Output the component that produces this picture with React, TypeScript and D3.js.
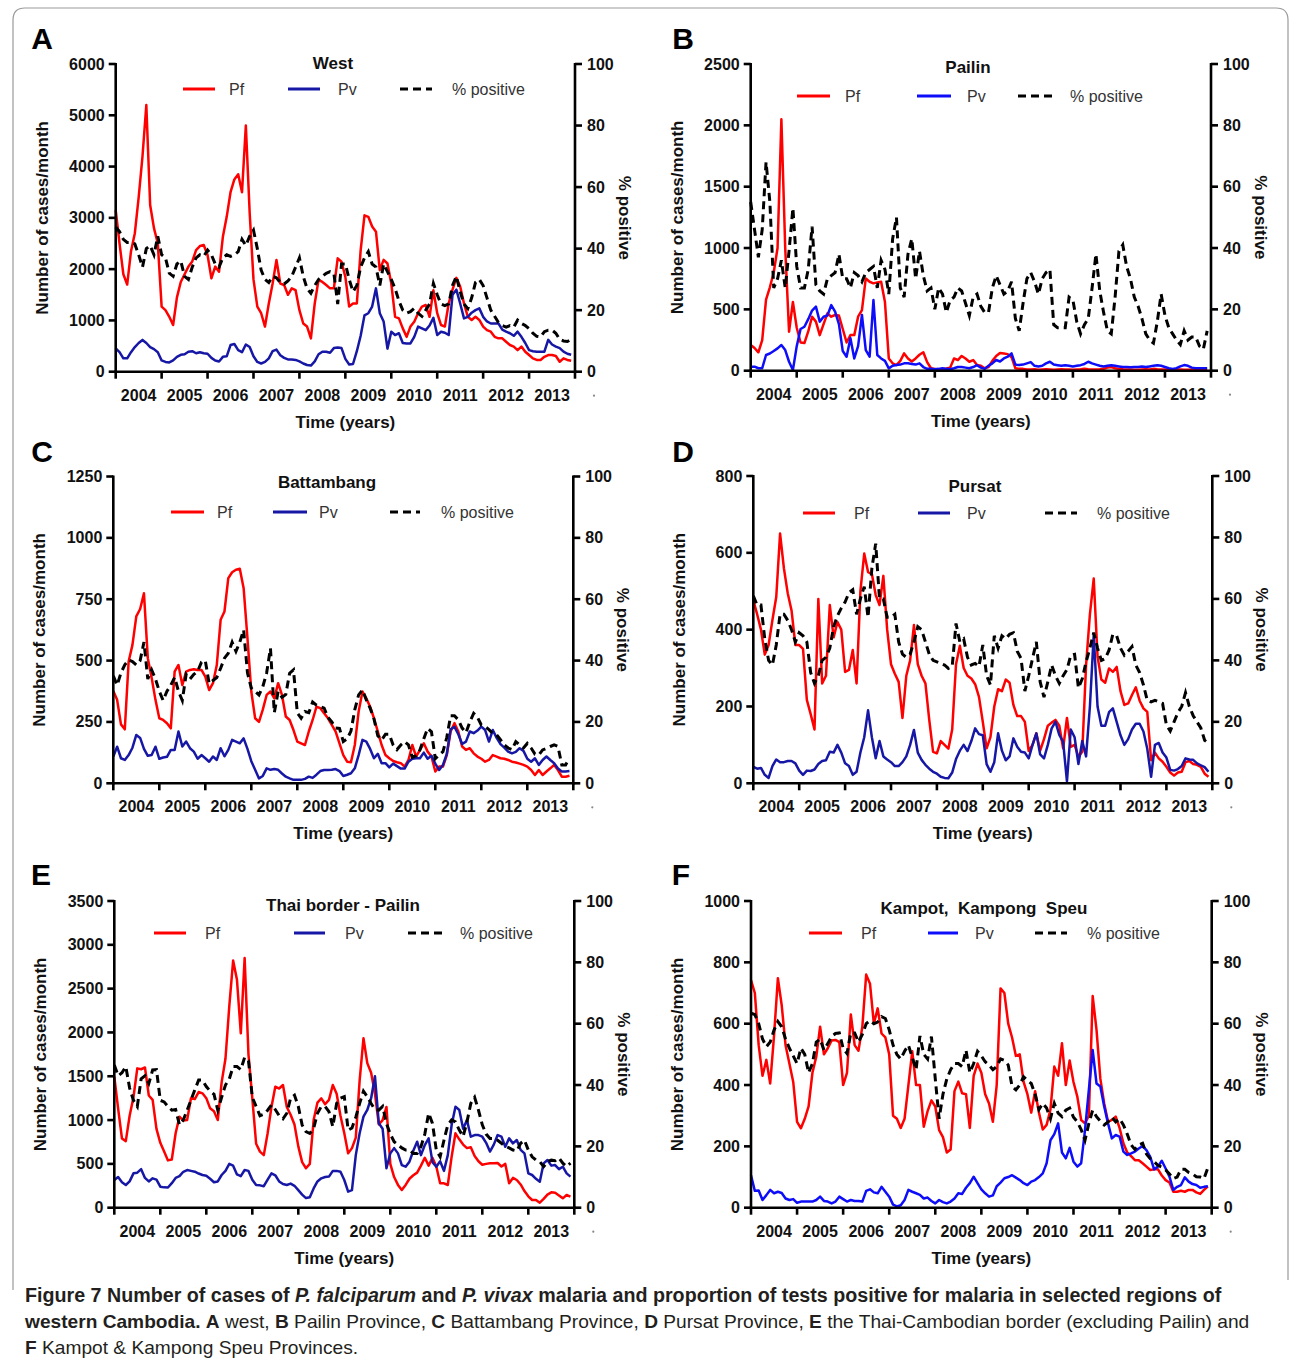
import React, { useLayoutEffect, useRef, useState } from "react";
import * as d3 from "d3";

// ---------- shared categories / ticks ----------
const yearLabels = ["2004", "2005", "2006", "2007", "2008", "2009", "2010", "2011", "2012", "2013"];
const pctTicks = [0, 20, 40, 60, 80, 100];
const monthsPerYear = 12;

// ---------- A: West ----------
const westTicks = [0, 1000, 2000, 3000, 4000, 5000, 6000];
const westPf = [
  3150, 2500, 1900, 1700, 2350, 2700, 3400, 4200, 5200, 3250, 2800, 2500,
  1270, 1200, 1070, 910, 1450, 1750, 1900, 2050, 2150, 2370, 2450, 2470,
  2275, 1820, 2050, 1950, 2630, 3020, 3500, 3750, 3850, 3500, 4800, 3100,
  1800, 1270, 1140, 880, 1330, 1720, 2180, 1720, 1690, 1500, 1625, 1590,
  1200, 940, 880, 650, 1330, 1790, 1750, 1690, 1625, 1625, 2210, 2145,
  1850, 1270, 1330, 1330, 2370, 3050, 3020, 2830, 2730, 1980, 2180, 2110,
  1720, 1070, 1040, 845, 680, 880, 975, 1140, 1270, 1300, 1070, 1590,
  1140, 910, 880, 1330, 1600, 1830, 1660, 1330, 1070, 1010, 1070, 1010,
  880, 810, 780, 680, 650, 650, 585, 520, 490, 420, 490, 390,
  325, 260, 230, 230, 290, 325, 325, 305, 195, 260, 230, 215,
];
const westPv = [
  455, 380, 260, 260, 380, 480, 560, 620, 560, 480, 440, 380,
  220, 190, 180, 220, 290, 330, 340, 390, 400, 360, 380, 360,
  350, 270, 220, 200, 290, 300, 520, 540, 420, 380, 530, 480,
  300, 190, 160, 190, 260, 400, 430, 320, 270, 240, 240, 230,
  200, 160, 130, 120, 200, 340, 390, 390, 370, 460, 470, 460,
  250, 140, 150, 400, 700, 1100, 1140, 1270, 1625, 1140, 980, 450,
  780, 715, 750, 560, 550, 550, 680, 880, 845, 810, 900, 1050,
  715, 780, 760, 715, 1500, 1600, 1330, 1040, 1070, 1150, 1200, 1235,
  1070, 980, 940, 940, 940, 820, 780, 750, 700, 780, 680, 560,
  420, 400, 390, 390, 390, 620, 530, 490, 460, 390, 350, 330,
];
const westPct = [
  47, 45.5, 43, 42, 42, 41.5, 38, 34, 40, 41, 38, 44,
  38, 37, 32, 31, 35, 36, 31, 30, 34, 37, 38, 37.5,
  39.5, 38, 35, 34, 37, 38, 37.5, 38, 39, 43, 41, 44,
  46, 40, 33, 30, 29, 31, 30.5, 29, 28.5, 29.5, 31, 34,
  37, 31, 27, 25.5, 28, 30, 31, 32, 32.5, 32, 22, 35,
  35, 30, 26, 28, 34, 37, 39, 35, 34, 28, 35, 32.5,
  30, 27, 23, 20, 19, 19.5, 20.6, 19, 18, 20, 22, 28.7,
  25, 22, 21.5, 22, 28, 31, 26, 22, 20.5, 24, 29, 30,
  28, 24, 20, 18, 16, 15, 14.5, 15, 14.5, 16.8, 15.7, 15,
  14, 12.5, 11.5, 11.3, 13, 13.5, 13.5, 12.5, 10.5, 10, 9.8, 10.5,
];

// ---------- B: Pailin ----------
const pailinTicks = [0, 500, 1000, 1500, 2000, 2500];
const pailinPf = [
  209, 185, 150, 250, 580, 680, 800, 1000, 2050, 1000, 318, 560,
  350, 230, 225, 320, 440, 400, 290, 380, 467, 440, 454, 450,
  340, 230, 290, 290, 440, 494, 752, 725, 712, 720, 725, 560,
  100, 60, 46, 80, 141, 100, 75, 100, 130, 150, 70, 20,
  15, 10, 12, 18, 25, 100, 87, 120, 100, 73, 87, 46,
  40, 20, 30, 80, 120, 145, 140, 135, 110, 20, 15, 15,
  10, 10, 12, 8, 10, 12, 10, 8, 10, 12, 10, 10,
  8, 10, 12, 15, 12, 10, 10, 12, 15, 25, 30, 20,
  15, 12, 10, 10, 8, 8, 10, 12, 10, 15, 12, 10,
  10, 8, 8, 10, 10, 8, 8, 10, 8, 8, 8, 8,
];
const pailinPv = [
  33, 33, 20, 20, 128, 140, 160, 182, 209, 168, 73, 5,
  200, 340, 358, 420, 490, 522, 400, 440, 450, 535, 481, 380,
  160, 114, 264, 100, 200, 454, 168, 114, 576, 128, 100, 80,
  19, 40, 46, 50, 60, 60, 55, 50, 60, 30, 15, 15,
  12, 15, 20, 15, 12, 20, 30, 30, 25, 20, 30, 45,
  25, 15, 40, 60, 87, 75, 100, 114, 141, 50, 46, 50,
  60, 70, 40, 35, 40, 60, 73, 50, 45, 40, 45, 40,
  35, 40, 45, 55, 73, 60, 50, 40, 35, 40, 45, 40,
  35, 30, 30, 28, 30, 30, 35, 30, 35, 40, 45, 40,
  30, 20, 15, 20, 35, 46, 40, 25, 20, 20, 20, 20,
];
const pailinPct = [
  55, 46, 37, 46, 68, 55, 27, 30, 36, 27, 39, 53,
  34, 27, 27, 33, 47, 28, 26, 25, 30, 31, 32, 38,
  30, 30, 27, 32, 31, 29, 32, 33, 34, 27, 36, 33,
  25, 43, 50, 27, 24, 38, 43, 30, 39, 31, 26, 27,
  20, 27, 25, 19, 23, 24, 27, 26, 22, 18, 24, 25,
  21, 19, 19, 27, 31, 28, 25, 26, 29, 17, 13, 22,
  30, 32, 29, 25, 30, 32, 33, 15, 14, 14, 14, 24,
  23, 16, 12, 15, 17, 27, 38, 26, 19, 13, 12, 24,
  39, 41, 34, 30, 24, 21, 17, 12, 10, 9, 16, 25,
  18, 14, 12, 10, 8.5, 13, 10, 11, 11, 8, 7, 13,
];

// ---------- C: Battambang ----------
const battTicks = [0, 250, 500, 750, 1000, 1250];
const battPf = [
  376, 340, 240, 220, 496, 564, 680, 710, 774, 510, 430, 340,
  265, 258, 245, 224, 455, 482, 400, 455, 462, 465, 462, 462,
  435, 380, 408, 482, 666, 700, 836, 860, 870, 874, 795, 591,
  374, 265, 250, 300, 360, 374, 346, 408, 360, 272, 258, 217,
  170, 163, 156, 211, 258, 312, 306, 285, 265, 238, 211, 163,
  115, 88, 86, 156, 292, 374, 346, 312, 265, 211, 156, 115,
  102, 91, 86, 82, 68, 95, 156, 109, 136, 163, 129, 109,
  48, 68, 68, 115, 211, 245, 211, 150, 136, 143, 122, 109,
  100, 88, 95, 115, 109, 102, 100, 95, 88, 85, 80, 75,
  68, 54, 34, 54, 34, 48, 61, 75, 54, 27, 27, 31,
];
const battPv = [
  109, 149, 102, 95, 115, 145, 197, 185, 140, 112, 115, 149,
  100, 105, 108, 136, 136, 211, 150, 170, 143, 129, 100, 115,
  102, 88, 109, 95, 143, 110, 136, 177, 170, 163, 183, 140,
  90, 55, 20, 30, 61, 55, 58, 55, 40, 27, 20, 14,
  14, 14, 18, 27, 22, 35, 50, 54, 54, 55, 58, 50,
  30, 35, 41, 61, 115, 177, 170, 140, 102, 120, 82, 82,
  65, 80, 70, 60, 60, 88, 100, 102, 102, 125, 100, 112,
  80, 54, 75, 120, 220, 230, 200, 160, 170, 211, 204, 215,
  231, 217, 170, 217, 185, 160, 145, 129, 122, 128, 143, 132,
  100, 88, 102, 75, 95, 109, 95, 82, 60, 48, 48, 50,
];
const battPct = [
  35, 32, 36, 38.6, 40.2, 39.7, 38.6, 40, 46, 34, 37, 34,
  30, 27, 30, 32, 34.5, 30, 27, 35.5, 34, 35.5, 36.5, 39.5,
  40, 32.5, 33.5, 34.5, 37.5, 40.8, 42.4, 46, 43, 46, 50, 36,
  31, 29.9, 28.8, 31.5, 36, 44, 23, 29.9, 28, 29, 35.9, 37,
  23, 21.2, 23.4, 23, 26.5, 25.5, 25, 24.5, 21.5, 20, 18, 17.9,
  13.6, 14.5, 17, 24, 28.8, 30.4, 27.2, 24.5, 21, 15.5, 14.1, 16,
  16, 12.5, 11, 12.5, 13.6, 12.5, 8.5, 9, 10.9, 14.5, 17.9, 16.8,
  8, 9.2, 10.3, 15, 22, 22, 20.7, 18, 16.5, 20, 22.8, 21.5,
  19, 18.5, 17.5, 16.3, 15.8, 14.2, 12.5, 11.5, 11, 13.6, 12.5, 11.5,
  13, 11.5, 9.5, 9.2, 10.9, 11.4, 12, 12.5, 12, 6, 6, 8.2,
];

// ---------- D: Pursat ----------
const pursatTicks = [0, 200, 400, 600, 800];
const pursatPf = [
  477, 440, 400, 335, 360, 425, 485, 650, 560, 495, 450, 360,
  360, 350, 217, 180, 140, 480, 260, 280, 464, 380, 420, 400,
  290, 295, 347, 260, 500, 598, 550, 545, 490, 464, 540, 400,
  310, 285, 264, 170, 280, 320, 412, 310, 280, 260, 165, 82,
  78, 110, 100, 90, 140, 310, 358, 300, 280, 273, 258, 225,
  160, 91, 120, 200, 245, 240, 270, 262, 204, 175, 175, 160,
  84, 100, 130, 85, 115, 150, 158, 165, 150, 91, 170, 95,
  100, 69, 82, 308, 440, 533, 330, 270, 262, 299, 290, 303,
  240, 204, 208, 230, 250, 215, 195, 186, 60, 80, 65, 56,
  43, 28, 20, 28, 30, 55, 58, 50, 48, 43, 25, 17,
];
const pursatPv = [
  43, 38, 40, 22, 14, 45, 62, 55, 55, 58, 58, 52,
  33, 22, 33, 32, 36, 50, 58, 60, 82, 80, 100, 80,
  52, 45, 22, 30, 80, 120, 190, 120, 65, 110, 70, 62,
  55, 45, 45, 55, 70, 100, 139, 80, 61, 48, 38, 30,
  25, 17, 14, 13, 28, 63, 85, 100, 84, 110, 143, 128,
  125, 50, 30, 55, 130, 85, 60, 70, 117, 95, 82, 80,
  65, 100, 130, 75, 65, 100, 143, 160, 126, 108, 5, 140,
  120, 50, 110, 70, 200, 386, 200, 150, 150, 185, 195, 160,
  125, 100, 115, 140, 155, 155, 135, 90, 17, 100, 105, 80,
  67, 35, 33, 37, 45, 65, 62, 61, 52, 47, 42, 30,
];
const pursatPct = [
  61, 58, 58, 47, 40, 38.5, 45, 55, 55, 53, 50, 46,
  49, 48, 46, 36, 32.5, 35, 40, 41, 44, 51, 54.5, 57,
  59, 62, 63, 55, 60, 64, 54, 70, 78, 60, 60, 54,
  54, 55, 46, 42, 41, 42, 46, 51, 50, 46, 42, 40,
  39.5, 39, 38.5, 37.4, 38, 52, 46, 47, 41, 38.5, 39, 38,
  45, 35, 32, 48, 44, 48, 47, 48.5, 49, 43, 40.6, 30,
  35, 40.6, 46, 33, 28, 33, 38.5, 35, 32.5, 35, 37, 41.7,
  42, 31, 34, 39.5, 44, 49, 44, 40, 40.6, 43.3, 48.5, 48,
  44, 41.7, 43, 44.5, 38.5, 36, 32, 27, 26.5, 27, 26.5, 26,
  19, 17, 20, 23, 25, 29.5, 25, 22, 20, 18, 14, 13,
];

// ---------- E: Thai border - Pailin ----------
const thaiTicks = [0, 500, 1000, 1500, 2000, 2500, 3000, 3500];
const thaiPf = [
  1495, 1130, 790, 760, 1050, 1260, 1590, 1580, 1600, 1280, 1230, 900,
  740, 640, 540, 550, 850, 1039, 995, 1000, 1250, 1240, 1320, 1305,
  1250, 1134, 1100, 1000, 1430, 1700, 2300, 2820, 2600, 1990, 2850, 1750,
  1250, 730, 640, 600, 850, 1150, 1381, 1360, 1400, 1150, 1060, 950,
  700, 520, 450, 500, 1000, 1200, 1248, 1180, 1230, 1400, 1300, 1050,
  850, 620, 680, 800, 1450, 1933, 1650, 1540, 1300, 950, 1000, 1150,
  500, 350, 260, 202, 260, 330, 370, 400, 480, 570, 480, 570,
  470, 278, 278, 259, 582, 849, 780, 720, 680, 690, 590, 530,
  490, 500, 506, 506, 510, 470, 500, 280, 340, 316, 265, 190,
  130, 88, 88, 57, 100, 150, 175, 170, 140, 107, 145, 126,
];
const thaiPv = [
  316, 350, 290, 259, 300, 392, 400, 440, 340, 300, 335, 320,
  240, 232, 230, 280, 340, 360, 410, 430, 420, 411, 390, 373,
  365, 330, 290, 300, 373, 420, 500, 480, 380, 360, 430, 420,
  320, 259, 255, 245, 320, 392, 370, 300, 270, 259, 275, 250,
  200, 150, 110, 120, 220, 300, 335, 350, 355, 420, 420, 410,
  316, 183, 200, 600, 850, 1039, 1115, 1250, 1500, 963, 900, 450,
  620, 680, 620, 487, 468, 525, 650, 753, 600, 715, 791, 520,
  468, 530, 420, 600, 944, 1153, 1115, 900, 1000, 810, 829, 829,
  810, 740, 640, 720, 829, 810, 696, 791, 734, 772, 660, 620,
  392, 373, 330, 297, 506, 544, 480, 487, 440, 468, 392, 354,
];
const thaiPct = [
  46.5, 43, 44, 46, 39, 35, 33, 42, 43, 40.5, 44.9, 45,
  35, 34.5, 33, 31.8, 32, 27, 28.6, 31.8, 35.1, 38.4, 41.6, 41.6,
  39.5, 38, 37, 31.8, 36, 40, 42, 46, 46, 45, 49, 48,
  36, 33, 30, 30.5, 31.8, 33.5, 32, 30, 29, 30.8, 35.7, 36.7,
  33, 27, 24.8, 24.2, 25.9, 30.8, 33, 33, 31.3, 26.4, 34, 35.7,
  36.2, 25.3, 26, 29.5, 34, 38, 36.2, 34, 32, 31.8, 33, 27.5,
  24, 21.5, 20.5, 19.5, 18.8, 18.8, 17.7, 17.7, 19.9, 24, 30.8, 27.5,
  18.8, 16.6, 22, 27, 28.6, 28, 25.3, 23.2, 28, 34, 36, 31.8,
  27, 24, 22.6, 22.6, 22, 21, 20, 19.5, 18.8, 18.5, 21, 22,
  18.8, 16.6, 15.5, 15, 13.4, 15, 15.5, 15.3, 16.2, 14.5, 13.4, 14.5,
];

// ---------- F: Kampot, Kampong Speu ----------
const kampotTicks = [0, 200, 400, 600, 800, 1000];
const kampotPf = [
  742, 700, 530, 430, 482, 405, 560, 748, 660, 530, 470, 410,
  280, 259, 290, 330, 440, 492, 590, 500, 520, 545, 547, 540,
  400, 440, 630, 530, 512, 590, 760, 730, 600, 650, 568, 555,
  500, 300, 290, 260, 290, 400, 510, 400, 400, 264, 315, 350,
  330, 253, 230, 180, 190, 380, 411, 373, 370, 260, 430, 470,
  440, 370, 340, 280, 400, 715, 700, 600, 555, 495, 500, 410,
  370, 310, 380, 310, 255, 270, 320, 460, 430, 536, 400, 480,
  410, 362, 286, 275, 300, 690, 580, 420, 340, 280, 286, 297,
  260, 210, 180, 168, 155, 155, 145, 134, 123, 125, 125, 105,
  90, 82, 52, 52, 55, 52, 58, 58, 50, 45, 58, 70,
];
const kampotPv = [
  106, 55, 56, 25, 41, 58, 47, 52, 48, 30, 25, 28,
  16, 20, 20, 20, 20, 25, 36, 22, 20, 14, 20, 36,
  28, 20, 25, 22, 22, 20, 55, 60, 50, 47, 68, 52,
  36, 10, 4, 8, 25, 58, 52, 47, 42, 30, 33, 22,
  14, 25, 18, 14, 20, 30, 47, 45, 65, 80, 101, 80,
  60, 47, 36, 40, 70, 82, 96, 100, 106, 98, 90, 80,
  74, 85, 90, 100, 112, 145, 220, 240, 275, 180, 161, 195,
  150, 134, 145, 253, 384, 514, 405, 395, 330, 275, 226, 237,
  232, 183, 172, 177, 183, 193, 201, 188, 166, 125, 134, 153,
  128, 101, 58, 68, 74, 99, 85, 77, 74, 65, 68, 70,
];
const kampotPct = [
  63.4, 63, 60, 55, 52.5, 54, 57.9, 60.7, 59, 55, 52, 49.5,
  47, 52, 50, 44, 47, 54, 55, 51.4, 53.5, 55.8, 56.8, 57,
  52, 50.3, 57, 57, 54, 56.5, 60, 61, 60, 60.5, 62.3, 61.7,
  58, 53, 50, 48.5, 51, 53, 49, 45, 56, 50, 48.5, 55.8,
  42, 29, 37, 42, 45, 47, 47, 46, 51.4, 44, 47, 51,
  49.5, 47.6, 46.5, 45, 46, 48.5, 48, 46.5, 39.5, 38.4, 40, 42.7,
  41.5, 40.5, 37, 32, 34, 32.5, 29, 34, 30.8, 29.7, 31.8, 32.5,
  29.5, 28, 25.5, 22, 27.5, 31.8, 29.7, 28.2, 27, 28, 29.5, 28,
  29, 27, 24, 20.5, 19, 20.5, 21, 17.5, 16, 15, 13.8, 13.2,
  12.3, 11, 9.5, 10, 12.5, 12.5, 11.5, 11, 10.1, 10, 9.5, 13,
];

// ---------- panel text ----------
const panelLetters = ["A", "B", "C", "D", "E", "F"];
const panelTitles = ["West", "Pailin", "Battambang", "Pursat", "Thai border - Pailin", "Kampot,  Kampong  Speu"];
const seriesNames = ["Pf", "Pv", "% positive"];

const panelSeries = [
  { pf: westPf, pv: westPv, pct: westPct, ticks: westTicks },
  { pf: pailinPf, pv: pailinPv, pct: pailinPct, ticks: pailinTicks },
  { pf: battPf, pv: battPv, pct: battPct, ticks: battTicks },
  { pf: pursatPf, pv: pursatPv, pct: pursatPct, ticks: pursatTicks },
  { pf: thaiPf, pv: thaiPv, pct: thaiPct, ticks: thaiTicks },
  { pf: kampotPf, pv: kampotPv, pct: kampotPct, ticks: kampotTicks },
];

// ---------- layout & styles ----------
const FONT = "'Liberation Sans', Arial, Helvetica, sans-serif";
const RED = "#ff0000";
const BLUE_DARK = "#1717a6";
const BLUE_BRIGHT = "#0d0dfa";

const layouts = [
  { L: 115.7, R: 575, T: 64, B: 371.7, lx: 42, ly: 49, tx: 333, ty: 69, legY: 89, pf: [183, 215], pfT: 229, pv: [288, 320], pvT: 338, pc: [400, 432], pcT: 452, pvColor: BLUE_DARK },
  { L: 750.7, R: 1211, T: 64, B: 370.7, lx: 683, ly: 49, tx: 968, ty: 73, legY: 96, pf: [797, 830], pfT: 845, pv: [917, 951], pvT: 967, pc: [1018, 1052], pcT: 1070, pvColor: BLUE_BRIGHT },
  { L: 113.3, R: 573.3, T: 476.5, B: 783.3, lx: 42, ly: 462, tx: 327, ty: 488, legY: 512, pf: [171, 204], pfT: 217, pv: [273, 307], pvT: 319, pc: [390, 420], pcT: 441, pvColor: BLUE_DARK },
  { L: 753.3, R: 1212.3, T: 476, B: 783.3, lx: 683, ly: 462, tx: 975, ty: 492, legY: 513, pf: [803, 835], pfT: 854, pv: [918, 950], pvT: 967, pc: [1045, 1077], pcT: 1097, pvColor: BLUE_DARK },
  { L: 114.3, R: 574.3, T: 901, B: 1207.7, lx: 41, ly: 885, tx: 343, ty: 911, legY: 933, pf: [154, 186], pfT: 205, pv: [294, 325], pvT: 345, pc: [408, 442], pcT: 460, pvColor: BLUE_DARK },
  { L: 751, R: 1211.7, T: 901, B: 1207.7, lx: 681, ly: 885, tx: 984, ty: 914, legY: 933, pf: [809, 842], pfT: 861, pv: [928, 958], pvT: 975, pc: [1035, 1067], pcT: 1087, pvColor: BLUE_BRIGHT },
];

function Panel({ idx }: { idx: number }) {
  const s = panelSeries[idx];
  const l = layouts[idx];
  const nMonths = yearLabels.length * monthsPerYear;
  const yMax = s.ticks[s.ticks.length - 1];
  const x = d3.scaleLinear().domain([0, nMonths]).range([l.L, l.R]);
  const y = d3.scaleLinear().domain([0, yMax]).range([l.B, l.T]);
  const yr = d3.scaleLinear().domain([0, 100]).range([l.B, l.T]);
  const lineL = d3.line<number>().x((_, i) => x(i)).y((v) => y(v));
  const lineR = d3.line<number>().x((_, i) => x(i)).y((v) => yr(v));
  const yearBounds = d3.range(0, nMonths + 1, monthsPerYear);
  const tickLen = 7;
  const axisW = 2.6;
  return (
    <g>
      <path d={lineL(s.pf) || ""} fill="none" stroke={RED} strokeWidth={2.5} strokeLinejoin="round" />
      <path d={lineL(s.pv) || ""} fill="none" stroke={l.pvColor} strokeWidth={2.5} strokeLinejoin="round" />
      <path d={lineR(s.pct) || ""} fill="none" stroke="#000" strokeWidth={3} strokeDasharray="8,5" />

      <g stroke="#000" strokeWidth={axisW} fill="none">
        <line x1={l.L} x2={l.L} y1={l.T - 1} y2={l.B + axisW / 2} />
        <line x1={l.R} x2={l.R} y1={l.T - 1} y2={l.B + axisW / 2} />
        <line x1={l.L - axisW / 2} x2={l.R + axisW / 2} y1={l.B} y2={l.B} />
        {s.ticks.map((t) => (
          <line key={"l" + t} x1={l.L - tickLen} x2={l.L} y1={y(t)} y2={y(t)} />
        ))}
        {pctTicks.map((t) => (
          <line key={"r" + t} x1={l.R} x2={l.R + tickLen} y1={yr(t)} y2={yr(t)} />
        ))}
        {yearBounds.map((m) => (
          <line key={"x" + m} x1={x(m)} x2={x(m)} y1={l.B} y2={l.B + tickLen} />
        ))}
      </g>

      <g fontFamily={FONT} fontWeight="bold" fontSize={16} fill="#111">
        {s.ticks.map((t) => (
          <text key={"lt" + t} x={l.L - 11} y={y(t) + 5.5} textAnchor="end">{t}</text>
        ))}
        {pctTicks.map((t) => (
          <text key={"rt" + t} x={l.R + 12} y={yr(t) + 5.5} textAnchor="start">{t}</text>
        ))}
        {yearLabels.map((yl, k) => (
          <text key={yl} x={x(k * monthsPerYear + monthsPerYear / 2)} y={l.B + 29} textAnchor="middle">{yl}</text>
        ))}
      </g>
      <circle cx={l.R + 19} cy={l.B + 24} r={1.1} fill="#888" />

      <g fontFamily={FONT} fontWeight="bold" fontSize={17} fill="#111">
        <text x={(l.L + l.R) / 2} y={l.B + 56} textAnchor="middle">Time (years)</text>
        <text transform={`translate(${l.L - 68},${(l.T + l.B) / 2}) rotate(-90)`} textAnchor="middle">Number of cases/month</text>
        <text transform={`translate(${l.R + 44},${(l.T + l.B) / 2}) rotate(90)`} textAnchor="middle">% positive</text>
        <text x={l.tx} y={l.ty} textAnchor="middle" style={{ whiteSpace: "pre" }}>{panelTitles[idx]}</text>
      </g>
      <text x={l.lx} y={l.ly} textAnchor="middle" fontFamily={FONT} fontWeight="bold" fontSize={30} fill="#000">{panelLetters[idx]}</text>

      <g>
        <line x1={l.pf[0]} x2={l.pf[1]} y1={l.legY} y2={l.legY} stroke={RED} strokeWidth={3} />
        <line x1={l.pv[0]} x2={l.pv[1]} y1={l.legY} y2={l.legY} stroke={l.pvColor} strokeWidth={3} />
        <line x1={l.pc[0]} x2={l.pc[1]} y1={l.legY} y2={l.legY} stroke="#000" strokeWidth={3.2} strokeDasharray="8,5" />
        <g fontFamily={FONT} fontSize={16} fill="#333">
          <text x={l.pfT} y={l.legY + 6}>{seriesNames[0]}</text>
          <text x={l.pvT} y={l.legY + 6}>{seriesNames[1]}</text>
          <text x={l.pcT} y={l.legY + 6}>{seriesNames[2]}</text>
        </g>
      </g>
    </g>
  );
}

function Line1() {
  return (
    <>
      Figure 7 Number of cases of <tspan fontStyle="italic">P. falciparum</tspan> and <tspan fontStyle="italic">P. vivax</tspan> malaria and proportion of tests positive for malaria in selected regions of
    </>
  );
}
function Line2() {
  return (
    <>
      <tspan fontWeight="bold">western Cambodia.</tspan> <tspan fontWeight="bold">A</tspan> west, <tspan fontWeight="bold">B</tspan> Pailin Province, <tspan fontWeight="bold">C</tspan> Battambang Province, <tspan fontWeight="bold">D</tspan> Pursat Province, <tspan fontWeight="bold">E</tspan> the Thai-Cambodian border (excluding Pailin) and
    </>
  );
}

function Caption() {
  const r1 = useRef<SVGTextElement>(null);
  const r2 = useRef<SVGTextElement>(null);
  const [fs, setFs] = useState<[number, number]>([17, 17]);
  useLayoutEffect(() => {
    const a = r1.current ? r1.current.getComputedTextLength() : 0;
    const b = r2.current ? r2.current.getComputedTextLength() : 0;
    if (a > 0 && b > 0) setFs([(17 * 1197) / a, (17 * 1225) / b]);
  }, []);
  const color = "#231f20";
  return (
    <g fontFamily={FONT} fill={color}>
      <text ref={r1} x={25} y={1302} fontWeight="bold" fontSize={17} style={{ visibility: "hidden" }}><Line1 /></text>
      <text ref={r2} x={25} y={1328} fontSize={17} style={{ visibility: "hidden" }}><Line2 /></text>
      <text x={25} y={1302} fontWeight="bold" fontSize={fs[0]}><Line1 /></text>
      <text x={25} y={1328} fontSize={fs[1]}><Line2 /></text>
      <text x={25} y={1354} fontSize={fs[1]}>
        <tspan fontWeight="bold">F</tspan> Kampot &amp; Kampong Speu Provinces.
      </text>
    </g>
  );
}

export default function App() {
  return (
    <svg width={1290} height={1366} viewBox="0 0 1290 1366" style={{ position: "absolute", left: 0, top: 0, background: "#fff" }}>
      <rect x={0} y={0} width={1290} height={1366} fill="#fff" />
      <path d="M 13 1290 L 13 20 Q 13 8 25 8 L 1276 8 Q 1288 8 1288 20 L 1288 1280" fill="none" stroke="#9a9a9a" strokeWidth={1.2} />
      {panelSeries.map((_, i) => (
        <Panel key={i} idx={i} />
      ))}
      <Caption />
    </svg>
  );
}
